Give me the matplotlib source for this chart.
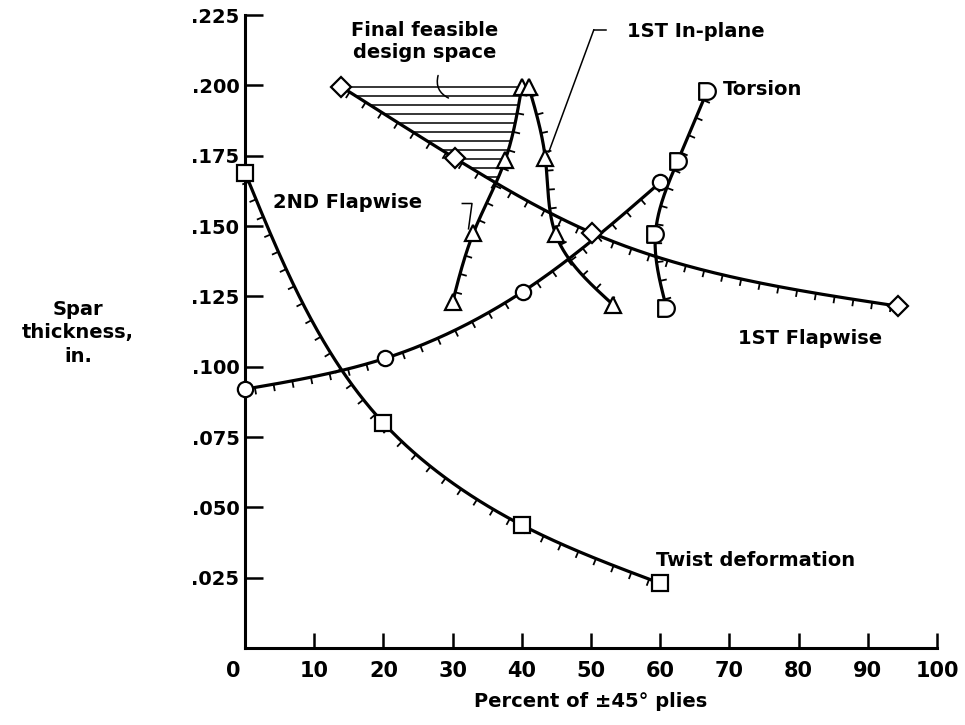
import numpy as np
import matplotlib.pyplot as plt
from matplotlib.path import Path
from matplotlib.transforms import ScaledTranslation

# curve data: percent of +-45 deg plies vs spar thickness (in.)
twist_x = [0, 20, 40, 60]
twist_y = [0.169, 0.080, 0.0437, 0.023]
circle_x = [0, 20.3, 40.1, 60.0]
circle_y = [0.092, 0.103, 0.1266, 0.1655]
flap1_x = [13.9, 30.4, 50.2, 94.4]
flap1_y = [0.1995, 0.174, 0.1475, 0.1215]
flap2_x = [30.0, 33.0, 37.6, 40.0]
flap2_y = [0.123, 0.1475, 0.1735, 0.1995]
inplane_x = [41.0, 43.4, 44.9, 53.2]
inplane_y = [0.1995, 0.174, 0.147, 0.122]
torsion_x = [66.8, 62.5, 59.3, 60.9]
torsion_y = [0.198, 0.173, 0.147, 0.121]

x_ticks = list(range(0, 101, 10))
y_ticks = [0.025, 0.050, 0.075, 0.100, 0.125, 0.150, 0.175, 0.200, 0.225]

plt.rcParams["font.family"] = "DejaVu Sans"
plt.rcParams["font.weight"] = "bold"

fig = plt.figure(figsize=(9.65, 7.25), dpi=100)
ax = fig.add_axes([0.2539, 0.1062, 0.7171, 0.8731])
ax.set_xlim(0, 100)
ax.set_ylim(0, 0.225)


def smooth(xs, ys, n=240):
    # natural cubic spline, chord-length parameter, in pixel space
    pts = ax.transData.transform(np.column_stack([xs, ys]))
    t = np.concatenate([[0], np.cumsum(np.hypot(*np.diff(pts, axis=0).T))])
    m = len(t)
    h = np.diff(t)
    A = np.zeros((m, m))
    r = np.zeros((m, 2))
    A[0, 0] = A[-1, -1] = 1
    for i in range(1, m - 1):
        A[i, i - 1] = h[i - 1]
        A[i, i] = 2 * (h[i - 1] + h[i])
        A[i, i + 1] = h[i]
        r[i] = 6 * ((pts[i + 1] - pts[i]) / h[i] - (pts[i] - pts[i - 1]) / h[i - 1])
    M = np.linalg.solve(A, r)
    tt = np.linspace(0, t[-1], n)
    idx = np.clip(np.searchsorted(t, tt, side="right") - 1, 0, m - 2)
    t0, t1 = t[idx][:, None], t[idx + 1][:, None]
    hh = t1 - t0
    a = t1 - tt[:, None]
    b = tt[:, None] - t0
    return (M[idx] * a ** 3 / (6 * hh) + M[idx + 1] * b ** 3 / (6 * hh)
            + (pts[idx] / hh - M[idx] * hh / 6) * a
            + (pts[idx + 1] / hh - M[idx + 1] * hh / 6) * b)


def hachures(pix, side, spacing=19.0, length=7.0, start=10.0):
    d = np.diff(pix, axis=0)
    s = np.concatenate([[0], np.cumsum(np.hypot(d[:, 0], d[:, 1]))])
    inv = ax.transData.inverted()
    for si in np.arange(start, s[-1] - 4, spacing):
        k = int(np.clip(np.searchsorted(s, si), 1, len(pix) - 1))
        step = max(s[k] - s[k - 1], 1e-9)
        p = pix[k - 1] + (si - s[k - 1]) / step * (pix[k] - pix[k - 1])
        tx, ty = (pix[k] - pix[k - 1]) / step
        nrm = np.array([-ty, tx]) if side == "left" else np.array([ty, -tx])
        seg = inv.transform(np.vstack([p, p + length * nrm]))
        ax.plot(seg[:, 0], seg[:, 1], color="black", lw=1.3, clip_on=False,
                solid_capstyle="butt")


theta = np.linspace(np.pi / 2, -np.pi / 2, 25)
d_verts = [(-1.0, 1.0)] + [(np.cos(a), np.sin(a)) for a in theta] + [(-1.0, -1.0), (-1.0, 1.0)]
d_codes = [Path.MOVETO] + [Path.LINETO] * (len(d_verts) - 2) + [Path.CLOSEPOLY]
d_marker = Path(d_verts, d_codes)

curves = [
    (twist_x, twist_y, "s", 11, "right"),
    (circle_x, circle_y, "o", 11, "right"),
    (flap1_x, flap1_y, "D", 10, "right"),
    (flap2_x, flap2_y, "^", 11, "right"),
    (inplane_x, inplane_y, "^", 11, "left"),
    (torsion_x, torsion_y, d_marker, 12, "left"),
]

dense = []
for xs, ys, mk, ms, side in curves:
    pix = smooth(xs, ys)
    dat = ax.transData.inverted().transform(pix)
    dense.append(dat)
    ax.plot(dat[:, 0], dat[:, 1], color="black", lw=2.3, clip_on=False, zorder=3)
    hachures(pix, side)
    ax.plot(xs, ys, linestyle="none", marker=mk, ms=ms, mfc="white", mec="black",
            mew=1.6, clip_on=False, zorder=5)

# hatched feasible region between 1ST and 2ND flapwise curves
f1, f2 = dense[2], dense[3]
for yl in np.arange(flap1_y[0], 0.164, -0.0032):
    xl = np.interp(yl, f1[::-1, 1], f1[::-1, 0])
    xr = np.interp(yl, f2[:, 1], f2[:, 0])
    if xr > xl:
        ax.plot([xl, xr], [yl, yl], color="black", lw=1.1, zorder=2)

# axes styling
for sp in ["top", "right"]:
    ax.spines[sp].set_visible(False)
for sp in ["left", "bottom"]:
    ax.spines[sp].set_linewidth(2.2)
ax.set_xticks(x_ticks)
ax.set_xticklabels([str(v) for v in x_ticks])
ax.set_yticks(y_ticks)
ax.set_yticklabels([".%03d" % round(v * 1000) for v in y_ticks])
ax.tick_params(axis="x", direction="in", length=11, width=1.8, pad=9, labelsize=15)
ax.tick_params(axis="y", direction="in", length=13, width=1.8, pad=4, labelsize=14)
for lab in ax.get_xticklabels() + ax.get_yticklabels():
    lab.set_fontweight("bold")
# the "0" sits a little left of the corner
zero = ax.get_xticklabels()[0]
zero.set_transform(zero.get_transform() + ScaledTranslation(-0.12, 0, fig.dpi_scale_trans))

ax.set_xlabel("Percent of ±45° plies", fontsize=14, fontweight="bold", labelpad=8)
fig.text(78 / 965, 1 - 333 / 725, "Spar\nthickness,\nin.", ha="center", va="center",
         fontsize=14, fontweight="bold", linespacing=1.3)

# curve labels
txt = dict(fontsize=14, fontweight="bold", color="black")
ax.text(59.4, 0.031, "Twist deformation", ha="left", va="center", **txt)
ax.text(71.2, 0.110, "1ST Flapwise", ha="left", va="center", **txt)
ax.text(69.1, 0.1985, "Torsion", ha="left", va="center", **txt)
ax.text(55.2, 0.219, "1ST In-plane", ha="left", va="center", **txt)
ax.text(4.0, 0.1585, "2ND Flapwise", ha="left", va="center", **txt)
ax.text(26.0, 0.2155, "Final feasible\ndesign space", ha="center", va="center",
        linespacing=1.2, **txt)

# leader lines
ax.plot([50.4, 52.1], [0.2197, 0.2197], color="black", lw=1.1, clip_on=False)
ax.plot([50.4, 43.9], [0.2197, 0.1763], color="black", lw=1.1)
ax.plot([31.4, 32.8, 32.3], [0.158, 0.158, 0.149], color="black", lw=1.1)
ax.annotate("", xy=(29.4, 0.1955), xytext=(27.9, 0.2035),
            arrowprops=dict(arrowstyle="-", lw=1.1, color="black",
                            connectionstyle="arc3,rad=0.4", shrinkA=0, shrinkB=0))

fig.savefig("out.png", dpi=100)
